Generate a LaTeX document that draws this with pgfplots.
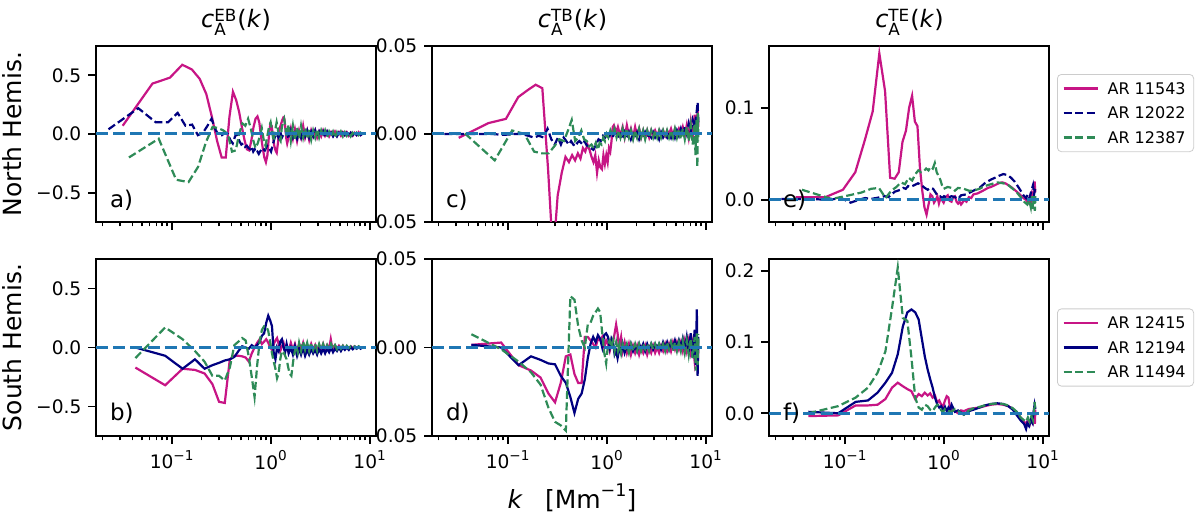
\documentclass[border=0pt]{standalone}
\usepackage{pgfplots}
\pgfplotsset{compat=1.18}
\usepackage{fontspec}
\setmainfont{DejaVu Sans}
\definecolor{mvr}{HTML}{C71585}
\definecolor{nv}{HTML}{000080}
\definecolor{sg}{HTML}{2E8B57}
\definecolor{cz}{HTML}{1F77B4}
\newcommand{\ttl}[1]{\textit{c}\makebox[0pt][l]{\raisebox{-4pt}{\fontsize{8.4}{9}\selectfont A}}\raisebox{3.15pt}{\fontsize{8.4}{9}\selectfont #1}\kern0.5pt(\textit{k})}
\newcommand{\tp}[1]{10\raisebox{0.45em}{\fontsize{6.8}{7}\selectfont #1}}
\pgfplotsset{
  ppbase/.style={
    scale only axis, width=140pt, height=88pt, xmin=0.0172, xmax=11.6,
    tick pos=left, tick align=outside, scaled y ticks=false,
    xtick={0.1,1,10},
    minor xtick={0.02,0.03,0.04,0.05,0.06,0.07,0.08,0.09,0.2,0.3,0.4,0.5,0.6,0.7,0.8,0.9,2,3,4,5,6,7,8,9},
    major tick length=3.8pt, minor tick length=2.2pt,
    axis line style={line width=1.1pt},
    major tick style={black, line width=0.9pt},
    minor tick style={black, line width=0.7pt},
    tick label style={font=\fontsize{9.3}{10}\selectfont},
    legend style={at={(1.0286,0.5)}, anchor=west, draw=black!20, fill=white, rounded corners=2pt,
      font=\fontsize{8}{9}\selectfont, inner xsep=2.5pt, inner ysep=2.5pt, row sep=3.1pt,
      nodes={inner xsep=1.5pt, inner ysep=1.6pt, text depth=0pt, font=\fontsize{8}{9}\selectfont},
      /tikz/every odd column/.append style={column sep=3pt}},
    legend cell align=left,
    legend image code/.code={\draw[##1] (0pt,0pt) -- (17pt,0pt);},
  },
  pptop/.style={ppbase, xticklabels={}},
  ppbot/.style={ppbase, height=88.5pt, xticklabels={\tp{−1},\tp{0},\tp{1}}},
  ppma/.style={mvr, line width=1.1pt},
  ppnvs/.style={nv, line width=1.1pt},
  ppnvd/.style={nv, line width=1.1pt, dash pattern=on 4pt off 1.75pt},
  ppsgd/.style={sg, line width=1.1pt, dash pattern=on 4pt off 1.75pt},
  ppzl/.style={forget plot, cz, line width=1.5pt, dash pattern=on 6pt off 2.6pt},
  ppeb/.style={ymin=-0.75, ymax=0.75, ytick={-0.5,0,0.5}, yticklabels={−0.5,0.0,0.5}},
  pptb/.style={ymin=-0.05, ymax=0.05, ytick={-0.05,0,0.05}, yticklabels={−0.05,0.00,0.05}},
}
\newcommand{\plab}[1]{\node[anchor=base west, font=\fontsize{11.5}{12}\selectfont] at (rel axis cs:0.025,0.085) {#1};}
\begin{document}
\begin{tikzpicture}
\path[use as bounding box] (0,0) rectangle (600pt,257.5pt);
% ---------------- a) EB North
\begin{semilogxaxis}[pptop, ppeb, at={(48pt,146.5pt)}, anchor=south west]
\addplot[ppma] coordinates {(0.032,0.07)(0.064,0.43)(0.096,0.48)(0.128,0.59)(0.16,0.55)(0.192,0.47)(0.224,0.34)(0.256,0.14)(0.288,-0.06)(0.32,-0.20)(0.352,-0.20)(0.384,0.15)(0.416,0.36)(0.448,0.29)(0.48,0.19)(0.512,0.06)(0.544,-0.05)(0.576,-0.13)(0.608,-0.14)(0.64,-0.05)(0.672,0.06)(0.704,0.13)(0.736,0.15)(0.768,0.10)(0.80,-0.02)(0.832,-0.12)(0.864,-0.20)(0.896,-0.24)(0.928,-0.18)(0.96,-0.02)(0.992,0.08)(1.024,0.07)(1.056,-0.02)(1.088,-0.10)(1.12,-0.14)(1.152,-0.16)(1.184,-0.08)(1.216,0.02)(1.248,0.06)(1.28,0.09)(1.312,0.12)(1.344,0.14)(1.376,0.13)(1.408,0.05)(1.44,-0.04)(1.47,-0.08)(1.52,-0.03)(1.6,0.05)(1.68,-0.04)(1.76,0.04)(1.85,-0.06)(1.94,0.03)(2.03,-0.03)(2.13,0.07)(2.23,-0.03)(2.34,0.03)(2.45,-0.05)(2.57,0.03)(2.69,-0.02)(2.82,0.03)(2.95,-0.03)(3.09,0.02)(3.24,-0.02)(3.39,0.03)(3.55,-0.015)(3.72,0.02)(3.9,-0.02)(4.08,0.015)(4.27,-0.015)(4.47,0.02)(4.68,-0.015)(4.9,0.015)(5.13,-0.015)(5.37,0.015)(5.62,-0.01)(5.88,0.015)(6.16,-0.015)(6.45,0.01)(6.75,-0.015)(7.07,0.01)(7.4,-0.01)(7.75,0.015)(8.1,-0.008)(8.45,0.008)};
\addplot[ppnvd] coordinates {(0.023,0.04)(0.046,0.22)(0.069,0.10)(0.092,0.10)(0.115,0.18)(0.138,0.07)(0.161,0.08)(0.184,-0.01)(0.207,0.01)(0.23,0.07)(0.253,0.13)(0.276,0.04)(0.299,-0.01)(0.322,-0.01)(0.345,0.01)(0.368,0.0)(0.391,-0.05)(0.414,-0.08)(0.437,-0.02)(0.46,0.0)(0.483,-0.06)(0.506,-0.09)(0.529,-0.08)(0.552,-0.11)(0.575,-0.10)(0.598,-0.12)(0.621,-0.13)(0.644,-0.11)(0.667,-0.15)(0.69,-0.13)(0.713,-0.16)(0.736,-0.15)(0.759,-0.17)(0.782,-0.15)(0.828,-0.12)(0.874,-0.14)(0.92,-0.10)(0.966,-0.12)(1.01,-0.15)(1.06,-0.08)(1.1,-0.03)(1.15,0.01)(1.2,-0.03)(1.25,0.02)(1.3,-0.03)(1.37,0.01)(1.45,0.02)(1.52,-0.04)(1.6,0.03)(1.68,-0.03)(1.76,0.01)(1.85,-0.04)(1.94,0.02)(2.03,-0.03)(2.13,0.03)(2.23,-0.02)(2.34,0.03)(2.45,-0.03)(2.57,0.02)(2.69,-0.02)(2.82,0.03)(2.95,-0.03)(3.09,0.02)(3.24,-0.02)(3.39,0.02)(3.55,-0.03)(3.72,0.02)(3.9,-0.02)(4.08,0.01)(4.27,-0.02)(4.47,0.01)(4.68,-0.02)(4.9,0.01)(5.13,-0.015)(5.37,0.01)(5.62,-0.01)(5.88,0.01)(6.16,-0.015)(6.45,0.01)(6.75,-0.01)(7.07,0.01)(7.4,-0.01)(7.75,0.005)(8.1,-0.01)(8.45,0.0)};
\addplot[ppsgd] coordinates {(0.037,-0.20)(0.074,-0.04)(0.111,-0.39)(0.148,-0.41)(0.185,-0.28)(0.222,-0.07)(0.259,0.06)(0.296,0.05)(0.333,0.03)(0.37,0.0)(0.407,-0.15)(0.444,-0.14)(0.481,0.0)(0.518,0.09)(0.555,0.07)(0.592,0.13)(0.629,0.05)(0.666,-0.05)(0.703,-0.12)(0.74,-0.08)(0.777,-0.02)(0.814,0.05)(0.851,-0.05)(0.888,-0.10)(0.925,-0.02)(0.962,0.06)(1.0,0.10)(1.04,0.02)(1.07,-0.06)(1.11,0.03)(1.15,0.10)(1.18,0.05)(1.22,-0.04)(1.26,-0.06)(1.29,0.04)(1.33,0.10)(1.37,0.13)(1.41,0.06)(1.45,-0.02)(1.52,0.08)(1.6,-0.06)(1.68,0.07)(1.76,-0.05)(1.85,0.06)(1.94,-0.04)(2.03,0.07)(2.13,-0.03)(2.23,0.05)(2.34,-0.04)(2.45,0.04)(2.57,-0.05)(2.69,0.03)(2.82,-0.03)(2.95,0.04)(3.09,-0.03)(3.24,0.03)(3.39,-0.02)(3.55,0.03)(3.72,-0.03)(3.9,0.02)(4.08,-0.02)(4.27,0.02)(4.47,-0.03)(4.68,0.015)(4.9,-0.02)(5.13,0.02)(5.37,-0.02)(5.62,0.015)(5.88,-0.015)(6.16,0.015)(6.45,-0.02)(6.75,0.01)(7.07,-0.015)(7.4,0.01)(7.75,-0.01)(8.1,0.01)(8.45,-0.005)};
\addplot[ppzl] coordinates {(0.0172,0)(11.6,0)};
\plab{a)}
\end{semilogxaxis}
% ---------------- c) TB North
\begin{semilogxaxis}[pptop, pptb, at={(216pt,146.5pt)}, anchor=south west]
\addplot[ppma] coordinates {(0.032,-0.0022)(0.064,0.0062)(0.096,0.0086)(0.128,0.021)(0.16,0.025)(0.192,0.028)(0.224,0.026)(0.256,-0.02)(0.288,-0.07)(0.32,-0.035)(0.352,-0.022)(0.384,-0.013)(0.416,-0.016)(0.448,-0.012)(0.48,-0.015)(0.512,-0.011)(0.544,-0.014)(0.576,-0.008)(0.608,-0.01)(0.64,-0.006)(0.672,-0.009)(0.704,-0.013)(0.736,-0.016)(0.768,-0.012)(0.80,-0.022)(0.832,-0.015)(0.864,-0.019)(0.896,-0.020)(0.928,-0.012)(0.96,-0.017)(0.992,-0.012)(1.024,-0.016)(1.056,-0.008)(1.088,-0.010)(1.12,-0.004)(1.152,0.004)(1.184,0.005)(1.25,0.001)(1.3,0.004)(1.37,-0.001)(1.45,0.004)(1.52,-0.002)(1.6,0.005)(1.68,-0.001)(1.76,0.003)(1.85,-0.002)(1.94,0.004)(2.03,-0.001)(2.13,0.003)(2.23,-0.002)(2.34,0.002)(2.45,-0.002)(2.57,0.002)(2.69,-0.002)(2.82,0.002)(2.95,-0.001)(3.09,0.002)(3.24,-0.001)(3.39,0.002)(3.55,-0.001)(3.72,0.002)(3.9,-0.001)(4.08,0.002)(4.27,0.0)(4.47,0.003)(4.68,-0.001)(4.9,0.003)(5.13,0.0)(5.37,0.003)(5.62,0.0)(5.88,0.004)(6.16,-0.001)(6.45,0.005)(6.75,-0.002)(7.07,0.007)(7.4,-0.003)(7.75,0.011)(8.1,-0.002)(8.3,0.015)(8.45,0.004)};
\addplot[ppnvd] coordinates {(0.023,0.0)(0.046,0.0)(0.069,0.0)(0.092,-0.0005)(0.115,0.0)(0.138,0.0)(0.161,-0.001)(0.184,-0.002)(0.207,-0.001)(0.23,-0.002)(0.253,0.003)(0.276,-0.003)(0.299,-0.006)(0.322,-0.002)(0.345,-0.006)(0.368,-0.002)(0.391,-0.004)(0.414,-0.006)(0.437,-0.004)(0.46,-0.006)(0.483,-0.007)(0.506,-0.005)(0.529,-0.004)(0.552,-0.005)(0.575,-0.006)(0.598,-0.004)(0.621,-0.006)(0.644,-0.007)(0.69,-0.008)(0.736,-0.009)(0.782,-0.006)(0.828,-0.003)(0.874,-0.004)(0.92,-0.001)(0.966,-0.002)(1.01,0.0)(1.06,-0.002)(1.1,0.001)(1.15,-0.002)(1.2,0.001)(1.3,-0.002)(1.37,0.0)(1.45,-0.003)(1.52,0.001)(1.6,-0.002)(1.68,0.001)(1.76,-0.003)(1.85,0.0)(1.94,-0.002)(2.03,0.001)(2.13,-0.003)(2.23,0.0)(2.34,-0.002)(2.45,0.001)(2.57,-0.002)(2.69,0.0)(2.82,-0.002)(2.95,0.001)(3.09,-0.002)(3.24,0.0)(3.39,-0.003)(3.55,0.001)(3.72,-0.002)(3.9,0.0)(4.08,-0.002)(4.27,0.001)(4.47,-0.002)(4.68,0.002)(4.9,-0.002)(5.13,0.002)(5.37,-0.001)(5.62,0.003)(5.88,-0.001)(6.16,0.004)(6.45,0.0)(6.75,0.006)(7.07,0.001)(7.4,0.008)(7.75,0.004)(8.1,0.012)(8.3,0.018)(8.45,0.006)};
\addplot[ppsgd] coordinates {(0.037,0.0003)(0.074,-0.015)(0.111,0.002)(0.148,0.0)(0.185,-0.010)(0.222,-0.011)(0.259,-0.011)(0.296,-0.007)(0.333,-0.003)(0.37,-0.004)(0.407,0.002)(0.444,0.008)(0.481,-0.004)(0.518,-0.002)(0.555,0.002)(0.592,-0.003)(0.629,-0.004)(0.666,-0.007)(0.703,-0.006)(0.74,-0.008)(0.777,-0.005)(0.814,-0.009)(0.851,-0.005)(0.888,-0.006)(0.925,-0.002)(0.962,-0.004)(1.0,0.0)(1.04,-0.002)(1.09,0.002)(1.14,-0.001)(1.2,0.003)(1.26,-0.002)(1.32,0.002)(1.38,-0.002)(1.45,0.003)(1.52,-0.002)(1.6,0.003)(1.68,-0.002)(1.76,0.002)(1.85,-0.003)(1.94,0.002)(2.03,-0.002)(2.13,0.003)(2.23,-0.002)(2.34,0.002)(2.45,-0.003)(2.57,0.002)(2.69,-0.002)(2.82,0.002)(2.95,-0.002)(3.09,0.002)(3.24,-0.002)(3.39,0.002)(3.55,-0.002)(3.72,0.002)(3.9,-0.002)(4.08,0.002)(4.27,-0.002)(4.47,0.002)(4.68,-0.002)(4.9,0.003)(5.13,-0.002)(5.37,0.003)(5.62,-0.003)(5.88,0.003)(6.16,-0.003)(6.45,0.004)(6.75,-0.004)(7.07,0.005)(7.4,-0.006)(7.75,0.006)(7.9,-0.012)(8.1,0.008)(8.25,-0.019)(8.35,0.012)(8.45,-0.004)};
\addplot[ppzl] coordinates {(0.0172,0)(11.6,0)};
\plab{c)}
\end{semilogxaxis}
% ---------------- e) TE North
\begin{semilogxaxis}[pptop, at={(384.5pt,146.5pt)}, anchor=south west,
  ymin=-0.024, ymax=0.167, ytick={0,0.1}, yticklabels={0.0,0.1},
  legend style={at={(1.0286,0.619)}}]
\addplot[ppma] coordinates {(0.032,0.003)(0.064,0.003)(0.096,0.011)(0.128,0.030)(0.16,0.065)(0.192,0.096)(0.224,0.159)(0.256,0.118)(0.288,0.024)(0.32,0.023)(0.352,0.030)(0.384,0.063)(0.416,0.075)(0.448,0.100)(0.48,0.113)(0.512,0.085)(0.544,0.080)(0.576,0.035)(0.608,0.010)(0.64,-0.008)(0.672,-0.016)(0.704,-0.005)(0.736,0.006)(0.768,0.004)(0.80,-0.003)(0.832,0.0)(0.864,0.004)(0.896,-0.004)(0.928,0.002)(0.96,0.0)(1.0,-0.003)(1.05,0.003)(1.1,0.005)(1.15,-0.001)(1.2,-0.002)(1.25,0.003)(1.3,0.004)(1.35,-0.002)(1.4,-0.004)(1.45,-0.002)(1.5,-0.005)(1.55,-0.003)(1.6,0.0)(1.7,-0.002)(1.8,0.003)(1.9,0.002)(2.0,0.006)(2.2,0.007)(2.5,0.010)(2.8,0.013)(3.0,0.014)(3.3,0.016)(3.6,0.018)(3.9,0.019)(4.2,0.018)(4.5,0.016)(4.8,0.014)(5.2,0.011)(5.6,0.008)(6.0,0.005)(6.4,0.002)(6.8,0.0)(7.1,-0.003)(7.4,0.003)(7.6,-0.004)(7.8,0.006)(8.0,0.002)(8.2,0.012)(8.3,0.020)(8.45,0.008)};
\addlegendentry{AR 11543}
\addplot[ppnvd] coordinates {(0.023,0.001)(0.046,0.001)(0.069,0.0)(0.092,0.002)(0.115,-0.003)(0.138,0.0)(0.161,0.002)(0.184,0.001)(0.207,0.002)(0.23,0.003)(0.253,0.004)(0.276,0.003)(0.299,0.006)(0.322,0.009)(0.345,0.010)(0.368,0.011)(0.391,0.013)(0.414,0.012)(0.437,0.015)(0.46,0.014)(0.506,0.016)(0.552,0.018)(0.598,0.016)(0.644,0.013)(0.69,0.011)(0.736,0.013)(0.782,0.012)(0.828,0.008)(0.874,0.004)(0.92,0.004)(0.966,0.002)(1.01,0.004)(1.1,0.002)(1.2,0.004)(1.3,0.003)(1.4,0.001)(1.5,0.005)(1.7,0.006)(2.0,0.010)(2.3,0.013)(2.6,0.018)(3.0,0.022)(3.3,0.024)(3.6,0.026)(4.0,0.028)(4.4,0.027)(4.8,0.024)(5.2,0.020)(5.6,0.015)(6.0,0.010)(6.4,0.005)(6.8,0.002)(7.1,0.006)(7.4,0.002)(7.7,0.010)(8.0,0.016)(8.2,0.006)(8.4,0.012)};
\addlegendentry{AR 12022}
\addplot[ppsgd] coordinates {(0.037,0.011)(0.074,0.001)(0.111,0.005)(0.148,0.008)(0.185,0.012)(0.222,0.013)(0.259,0.002)(0.296,0.010)(0.333,0.014)(0.37,0.019)(0.407,0.017)(0.444,0.024)(0.481,0.021)(0.518,0.028)(0.555,0.032)(0.592,0.030)(0.629,0.031)(0.666,0.034)(0.703,0.032)(0.74,0.036)(0.777,0.034)(0.814,0.040)(0.851,0.030)(0.888,0.026)(0.925,0.022)(0.962,0.016)(1.0,0.012)(1.1,0.014)(1.2,0.013)(1.3,0.010)(1.4,0.013)(1.6,0.012)(1.8,0.010)(2.0,0.010)(2.3,0.012)(2.6,0.015)(3.0,0.017)(3.5,0.019)(4.0,0.018)(4.5,0.016)(5.0,0.012)(5.5,0.008)(6.0,0.003)(6.5,-0.002)(7.0,-0.005)(7.3,0.0)(7.6,-0.008)(7.8,0.004)(8.0,-0.010)(8.2,0.006)(8.35,-0.012)(8.45,0.004)};
\addlegendentry{AR 12387}
\addplot[ppzl] coordinates {(0.0172,0)(11.6,0)};
\plab{e)}
\end{semilogxaxis}
% ---------------- b) EB South
\begin{semilogxaxis}[ppbot, ppeb, at={(48pt,39.5pt)}, anchor=south west]
\addplot[ppma] coordinates {(0.043,-0.17)(0.086,-0.32)(0.129,-0.18)(0.172,-0.19)(0.215,-0.22)(0.258,-0.31)(0.301,-0.46)(0.344,-0.47)(0.387,-0.10)(0.43,-0.07)(0.473,-0.07)(0.516,-0.075)(0.559,-0.085)(0.602,-0.12)(0.645,-0.05)(0.688,0.0)(0.731,0.04)(0.774,0.07)(0.817,0.03)(0.86,0.05)(0.903,0.07)(0.946,0.04)(0.989,0.0)(1.032,-0.02)(1.075,0.03)(1.118,0.06)(1.161,0.08)(1.204,0.03)(1.25,-0.03)(1.3,0.01)(1.35,0.04)(1.4,-0.02)(1.45,0.02)(1.52,-0.03)(1.6,0.04)(1.68,-0.02)(1.76,0.03)(1.85,-0.04)(1.94,0.03)(2.03,-0.02)(2.13,0.04)(2.23,-0.03)(2.34,0.02)(2.45,-0.03)(2.57,0.03)(2.69,-0.02)(2.82,0.02)(2.95,-0.03)(3.09,0.02)(3.24,-0.02)(3.39,0.03)(3.55,-0.02)(3.72,0.02)(3.9,-0.01)(4.05,0.07)(4.2,-0.01)(4.47,0.02)(4.68,-0.015)(4.9,0.015)(5.13,-0.01)(5.37,0.015)(5.62,-0.01)(5.88,0.01)(6.16,-0.01)(6.45,0.01)(6.75,-0.005)(7.07,0.01)(7.4,-0.005)(7.75,0.005)(8.1,-0.005)(8.45,0.0)};
\addplot[ppnvs] coordinates {(0.043,0.0)(0.086,-0.07)(0.129,-0.18)(0.172,-0.10)(0.215,-0.18)(0.258,-0.15)(0.301,-0.13)(0.344,-0.11)(0.387,-0.10)(0.43,-0.08)(0.473,-0.03)(0.516,0.01)(0.559,0.0)(0.602,-0.01)(0.645,0.02)(0.688,0.0)(0.731,0.02)(0.774,0.05)(0.817,0.10)(0.86,0.12)(0.903,0.21)(0.946,0.27)(0.989,0.23)(1.032,0.18)(1.075,-0.05)(1.118,-0.10)(1.161,0.0)(1.204,-0.03)(1.25,0.05)(1.3,0.07)(1.35,0.0)(1.4,-0.04)(1.45,0.03)(1.52,-0.05)(1.6,0.0)(1.68,-0.06)(1.76,0.01)(1.85,-0.07)(1.94,-0.01)(2.03,-0.06)(2.13,0.0)(2.23,-0.07)(2.34,-0.02)(2.45,-0.06)(2.57,-0.01)(2.69,-0.05)(2.82,-0.02)(2.95,-0.06)(3.09,-0.01)(3.24,-0.05)(3.39,-0.01)(3.55,-0.05)(3.72,-0.01)(3.9,-0.04)(4.08,0.0)(4.27,-0.04)(4.47,-0.01)(4.68,-0.03)(4.9,0.0)(5.13,-0.03)(5.37,0.0)(5.62,-0.02)(5.88,0.0)(6.16,-0.02)(6.45,0.005)(6.75,-0.015)(7.07,0.0)(7.4,-0.01)(7.75,0.005)(8.1,-0.01)(8.45,0.0)};
\addplot[ppsgd] coordinates {(0.043,-0.09)(0.086,0.17)(0.129,0.07)(0.172,-0.03)(0.215,-0.12)(0.258,-0.24)(0.301,-0.24)(0.344,-0.28)(0.387,-0.17)(0.43,0.02)(0.473,0.05)(0.516,0.08)(0.559,0.06)(0.602,-0.08)(0.645,-0.25)(0.688,-0.42)(0.731,-0.15)(0.774,0.05)(0.817,0.15)(0.86,0.18)(0.903,0.18)(0.946,0.14)(0.989,0.05)(1.032,-0.05)(1.075,-0.12)(1.118,-0.18)(1.161,-0.26)(1.204,-0.22)(1.25,-0.10)(1.3,-0.03)(1.35,-0.04)(1.45,-0.10)(1.55,-0.22)(1.62,-0.24)(1.7,-0.10)(1.8,0.02)(1.88,-0.04)(1.94,0.04)(2.03,-0.03)(2.13,0.05)(2.23,-0.02)(2.34,0.04)(2.45,-0.03)(2.57,0.04)(2.69,-0.02)(2.82,0.03)(2.95,-0.03)(3.09,0.03)(3.24,-0.02)(3.39,0.03)(3.55,-0.02)(3.72,0.02)(3.9,-0.02)(4.08,0.03)(4.27,-0.01)(4.47,0.02)(4.68,-0.015)(4.9,0.02)(5.13,-0.01)(5.37,0.015)(5.62,-0.01)(5.88,0.015)(6.16,-0.005)(6.45,0.01)(6.75,-0.005)(7.07,0.01)(7.4,-0.005)(7.75,0.01)(8.1,0.0)(8.45,0.005)};
\addplot[ppzl] coordinates {(0.0172,0)(11.6,0)};
\plab{b)}
\end{semilogxaxis}
% ---------------- d) TB South
\begin{semilogxaxis}[ppbot, pptb, at={(216pt,39.5pt)}, anchor=south west]
\addplot[ppma] coordinates {(0.043,0.0015)(0.086,0.0028)(0.129,-0.010)(0.172,-0.013)(0.215,-0.017)(0.258,-0.026)(0.301,-0.031)(0.344,-0.020)(0.387,-0.005)(0.43,-0.004)(0.473,-0.015)(0.516,-0.020)(0.559,-0.020)(0.602,0.006)(0.645,0.006)(0.688,0.004)(0.731,0.002)(0.774,0.0)(0.817,0.005)(0.86,0.004)(0.903,0.006)(0.946,0.0)(0.989,0.004)(1.032,0.002)(1.075,-0.002)(1.118,0.002)(1.161,0.003)(1.204,0.008)(1.247,0.013)(1.29,0.008)(1.333,0.0)(1.4,0.006)(1.45,-0.002)(1.52,0.003)(1.6,-0.003)(1.68,0.002)(1.76,-0.004)(1.85,0.001)(1.94,-0.003)(2.03,0.001)(2.13,-0.004)(2.23,0.0)(2.34,-0.003)(2.45,0.001)(2.57,-0.004)(2.69,0.0)(2.82,-0.003)(2.95,0.001)(3.09,-0.003)(3.24,0.0)(3.39,-0.003)(3.55,0.001)(3.72,-0.002)(3.9,0.002)(4.08,-0.002)(4.27,0.002)(4.47,-0.002)(4.68,0.003)(4.9,-0.001)(5.13,0.003)(5.37,-0.001)(5.62,0.003)(5.88,-0.002)(6.16,0.004)(6.45,-0.002)(6.75,0.004)(7.07,-0.003)(7.4,0.003)(7.75,-0.008)(8.1,0.002)(8.3,-0.011)(8.45,0.0)};
\addplot[ppnvs] coordinates {(0.043,0.0015)(0.086,0.0)(0.129,-0.010)(0.172,-0.005)(0.215,-0.007)(0.258,-0.009)(0.301,-0.0095)(0.344,-0.016)(0.387,-0.020)(0.43,-0.028)(0.473,-0.037)(0.516,-0.029)(0.559,-0.026)(0.602,-0.018)(0.645,-0.006)(0.688,0.002)(0.731,0.006)(0.774,0.003)(0.817,0.007)(0.86,0.005)(0.903,0.0)(0.946,0.007)(0.989,0.008)(1.032,0.006)(1.075,0.0)(1.118,0.005)(1.161,0.003)(1.204,-0.004)(1.247,-0.002)(1.29,-0.006)(1.35,0.0)(1.4,-0.003)(1.45,0.002)(1.52,-0.003)(1.6,0.001)(1.68,-0.002)(1.76,0.002)(1.85,-0.002)(1.94,0.001)(2.03,-0.002)(2.13,0.002)(2.23,-0.001)(2.34,0.002)(2.45,-0.002)(2.57,0.002)(2.69,-0.001)(2.82,0.002)(2.95,-0.001)(3.09,0.002)(3.24,0.0)(3.39,0.002)(3.55,-0.001)(3.72,0.003)(3.9,0.0)(4.08,0.003)(4.27,-0.001)(4.47,0.003)(4.68,0.0)(4.9,0.004)(5.13,0.0)(5.37,0.004)(5.62,0.0)(5.88,0.005)(6.16,-0.001)(6.45,0.006)(6.75,-0.002)(7.07,0.008)(7.4,-0.006)(7.75,0.010)(7.95,-0.010)(8.15,0.0215)(8.3,-0.016)(8.45,0.006)};
\addplot[ppsgd] coordinates {(0.043,0.0075)(0.086,-0.001)(0.129,-0.008)(0.172,-0.014)(0.215,-0.021)(0.258,-0.034)(0.301,-0.042)(0.344,-0.044)(0.387,-0.047)(0.43,0.029)(0.473,0.027)(0.516,0.012)(0.559,0.004)(0.602,0.0)(0.645,0.013)(0.688,0.014)(0.731,0.018)(0.774,0.020)(0.817,0.022)(0.86,0.020)(0.903,0.008)(0.946,-0.003)(0.989,-0.009)(1.032,0.002)(1.075,0.004)(1.118,0.0)(1.161,0.004)(1.204,-0.002)(1.25,0.003)(1.3,-0.002)(1.35,0.002)(1.4,-0.003)(1.45,0.002)(1.52,-0.002)(1.6,0.002)(1.68,-0.003)(1.76,0.002)(1.85,-0.002)(1.94,0.002)(2.03,-0.002)(2.13,0.002)(2.23,-0.002)(2.34,0.002)(2.45,-0.001)(2.57,0.002)(2.69,-0.002)(2.82,0.002)(2.95,-0.001)(3.09,0.002)(3.24,-0.002)(3.39,0.002)(3.55,-0.001)(3.72,0.002)(3.9,-0.002)(4.08,0.003)(4.27,-0.001)(4.47,0.003)(4.68,-0.002)(4.9,0.003)(5.13,-0.002)(5.37,0.003)(5.62,-0.002)(5.88,0.004)(6.16,-0.003)(6.45,0.004)(6.75,-0.004)(7.07,0.005)(7.4,-0.006)(7.75,0.006)(7.95,-0.013)(8.15,0.008)(8.3,-0.010)(8.45,0.0075)};
\addplot[ppzl] coordinates {(0.0172,0)(11.6,0)};
\plab{d)}
\end{semilogxaxis}
% ---------------- f) TE South
\begin{semilogxaxis}[ppbot, at={(384.5pt,39.5pt)}, anchor=south west,
  ymin=-0.032, ymax=0.217, ytick={0,0.1,0.2}, yticklabels={0.0,0.1,0.2}]
\addplot[ppma] coordinates {(0.043,-0.004)(0.086,-0.003)(0.129,0.011)(0.172,0.011)(0.215,0.012)(0.258,0.020)(0.301,0.036)(0.344,0.043)(0.387,0.038)(0.43,0.034)(0.473,0.031)(0.516,0.020)(0.559,0.027)(0.602,0.024)(0.645,0.029)(0.688,0.025)(0.731,0.028)(0.774,0.022)(0.817,0.025)(0.86,0.015)(0.903,0.018)(0.946,0.012)(0.989,0.010)(1.032,0.018)(1.075,0.024)(1.118,0.022)(1.161,0.008)(1.204,0.004)(1.3,0.003)(1.4,0.0)(1.5,0.004)(1.6,0.003)(1.8,0.006)(2.0,0.007)(2.3,0.008)(2.6,0.010)(3.0,0.012)(3.5,0.013)(4.0,0.012)(4.5,0.010)(5.0,0.006)(5.5,0.0)(6.0,-0.006)(6.5,-0.012)(6.8,-0.015)(7.1,-0.010)(7.4,-0.016)(7.7,-0.006)(8.0,-0.012)(8.2,0.002)(8.35,-0.015)(8.45,0.005)};
\addlegendentry{AR 12415}
\addplot[ppnvs] coordinates {(0.043,0.002)(0.086,0.0)(0.129,0.016)(0.172,0.018)(0.215,0.029)(0.258,0.043)(0.301,0.057)(0.344,0.083)(0.387,0.122)(0.43,0.142)(0.473,0.146)(0.516,0.142)(0.559,0.132)(0.602,0.105)(0.645,0.080)(0.688,0.062)(0.731,0.048)(0.774,0.036)(0.817,0.022)(0.86,0.013)(0.903,0.008)(0.946,0.010)(0.989,0.004)(1.032,0.009)(1.075,0.003)(1.118,0.008)(1.161,0.004)(1.204,0.012)(1.3,0.002)(1.4,0.004)(1.6,-0.002)(1.8,0.003)(2.0,0.005)(2.3,0.008)(2.6,0.011)(3.0,0.013)(3.5,0.014)(4.0,0.013)(4.5,0.010)(5.0,0.005)(5.5,-0.003)(6.0,-0.010)(6.5,-0.015)(6.8,-0.022)(7.0,-0.014)(7.3,-0.018)(7.6,-0.010)(7.9,-0.014)(8.1,0.002)(8.3,0.012)(8.45,0.006)};
\addlegendentry{AR 12194}
\addplot[ppsgd] coordinates {(0.043,0.0)(0.086,0.010)(0.129,0.022)(0.172,0.036)(0.215,0.057)(0.258,0.087)(0.301,0.148)(0.344,0.205)(0.387,0.134)(0.43,0.130)(0.473,0.078)(0.516,0.022)(0.559,0.008)(0.602,0.005)(0.645,0.012)(0.688,0.010)(0.731,0.005)(0.774,0.003)(0.817,0.008)(0.86,0.012)(0.903,0.010)(0.946,0.004)(0.989,0.002)(1.032,0.006)(1.075,0.004)(1.2,0.002)(1.3,0.006)(1.4,0.003)(1.6,-0.002)(1.8,0.004)(2.0,0.007)(2.3,0.009)(2.6,0.011)(3.0,0.013)(3.5,0.014)(4.0,0.013)(4.5,0.011)(5.0,0.007)(5.5,0.002)(6.0,-0.006)(6.5,-0.010)(6.8,-0.012)(7.1,-0.006)(7.4,-0.012)(7.7,-0.004)(8.0,-0.010)(8.2,0.004)(8.3,0.016)(8.45,0.005)};
\addlegendentry{AR 11494}
\addplot[ppzl] coordinates {(0.0172,0)(11.6,0)};
\plab{f)}
\end{semilogxaxis}
% ---------------- labels
\node[anchor=base, font=\fontsize{12}{13}\selectfont] at (118pt,243.5pt) {\ttl{EB}};
\node[anchor=base, font=\fontsize{12}{13}\selectfont] at (286.25pt,243.5pt) {\ttl{TB}};
\node[anchor=base, font=\fontsize{12}{13}\selectfont] at (454.75pt,243.5pt) {\ttl{TE}};
\node[rotate=90, anchor=base, font=\fontsize{12.5}{13}\selectfont] at (10.5pt,190.5pt) {North Hemis.};
\node[rotate=90, anchor=base, font=\fontsize{12.5}{13}\selectfont] at (10.5pt,83.75pt) {South Hemis.};
\node[anchor=base, font=\fontsize{12.5}{13}\selectfont] at (286pt,3.5pt) {\textit{k}\hspace{11pt}[Mm\raisebox{0.45em}{\fontsize{8.75}{9}\selectfont −1}]};
\end{tikzpicture}
\end{document}
